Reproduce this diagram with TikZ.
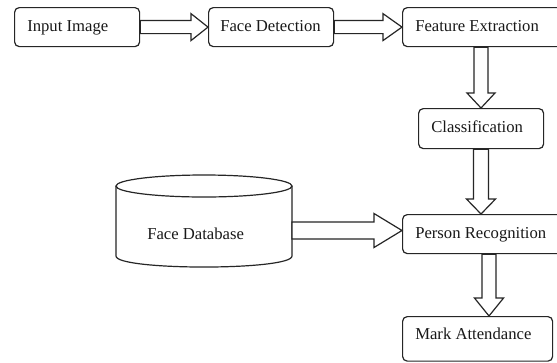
\documentclass[tikz,border=0pt]{standalone}
\usepackage{fontspec}
\setmainfont{Liberation Serif}
\usetikzlibrary{calc}
\tikzset{
  box/.style={draw=black!85, line width=0.9pt, rounded corners=3.5pt, inner sep=0pt, anchor=north west, fill=white},
  lbl/.style={anchor=base west, inner sep=0pt, text=black!90, font=\fontsize{12.5}{15}\selectfont},
  arrowline/.style={draw=black!85, line width=0.9pt, fill=white, line join=miter},
  dbline/.style={draw=black!85, line width=0.9pt}
}
\newcommand\blockarrow[5]{%
  \coordinate (bh) at ($(#2)!#5!(#1)$);
  \draw[arrowline] ($(#1)!#3!90:(#2)$) -- ($(bh)!#3!90:(#2)$) -- ($(bh)!#4!90:(#2)$) -- (#2)
    -- ($(bh)!#4!-90:(#2)$) -- ($(bh)!#3!-90:(#2)$) -- ($(#1)!#3!-90:(#2)$) -- cycle;}
\begin{document}
\begin{tikzpicture}[x=0.75pt, y=-0.75pt]
\useasboundingbox (0,0) rectangle (557,362);
\clip (0,0) rectangle (557,362);
\fill[white] (0,0) rectangle (557,362);

% boxes
\node[box, minimum width=93.75pt, minimum height=29.25pt] (in) at (14,7) {};
\node[box, minimum width=93.75pt, minimum height=29.25pt] (fd) at (208,7) {};
\node[box, minimum width=133.5pt, minimum height=29.25pt] (fe) at (402,7) {};
\node[box, minimum width=93.75pt, minimum height=30pt] (cls) at (418,108) {};
\node[box, minimum width=133.5pt, minimum height=29.25pt] (pr) at (402,214) {};
\node[box, minimum width=112.5pt, minimum height=33.4pt] (ma) at (402,316) {};

% labels
\node[lbl] (inT) at (27,31) {Input Image};
\node[lbl] (fdT) at (220,31) {Face Detection};
\node[lbl] (feT) at (415,31) {Feature Extraction};
\node[lbl] (clsT) at (431,132) {Classification};
\node[lbl] (prT) at (415,238) {Person Recognition};
\node[lbl] (maT) at (415,339) {Mark Attendance};

% database cylinder
\draw[dbline] (204,186) ellipse [x radius=88, y radius=11];
\draw[dbline] (116,186) -- (116,256) .. controls (116,270.7) and (292,270.7) .. (292,256) -- (292,186);
\coordinate (db) at (292,230.5);
\node[lbl] (dbT) at (147,239) {Face Database};

% block arrows
\blockarrow{in.east}{fd.west}{4.9pt}{10.1pt}{12.75pt}
\blockarrow{fd.east}{fe.west}{4.9pt}{10.1pt}{14.25pt}
\coordinate (c3) at (481,0);
\blockarrow{c3 |- fe.south}{c3 |- cls.north}{5.25pt}{10.5pt}{11.25pt}
\coordinate (c4) at (481,0);
\blockarrow{c4 |- cls.south}{c4 |- pr.north}{5.6pt}{10.9pt}{11.25pt}
\coordinate (c5) at (489,0);
\blockarrow{c5 |- pr.south}{c5 |- ma.north}{5.25pt}{10.9pt}{13.5pt}
\blockarrow{db}{db -| pr.west}{6.4pt}{12.75pt}{21pt}
\end{tikzpicture}
\end{document}
